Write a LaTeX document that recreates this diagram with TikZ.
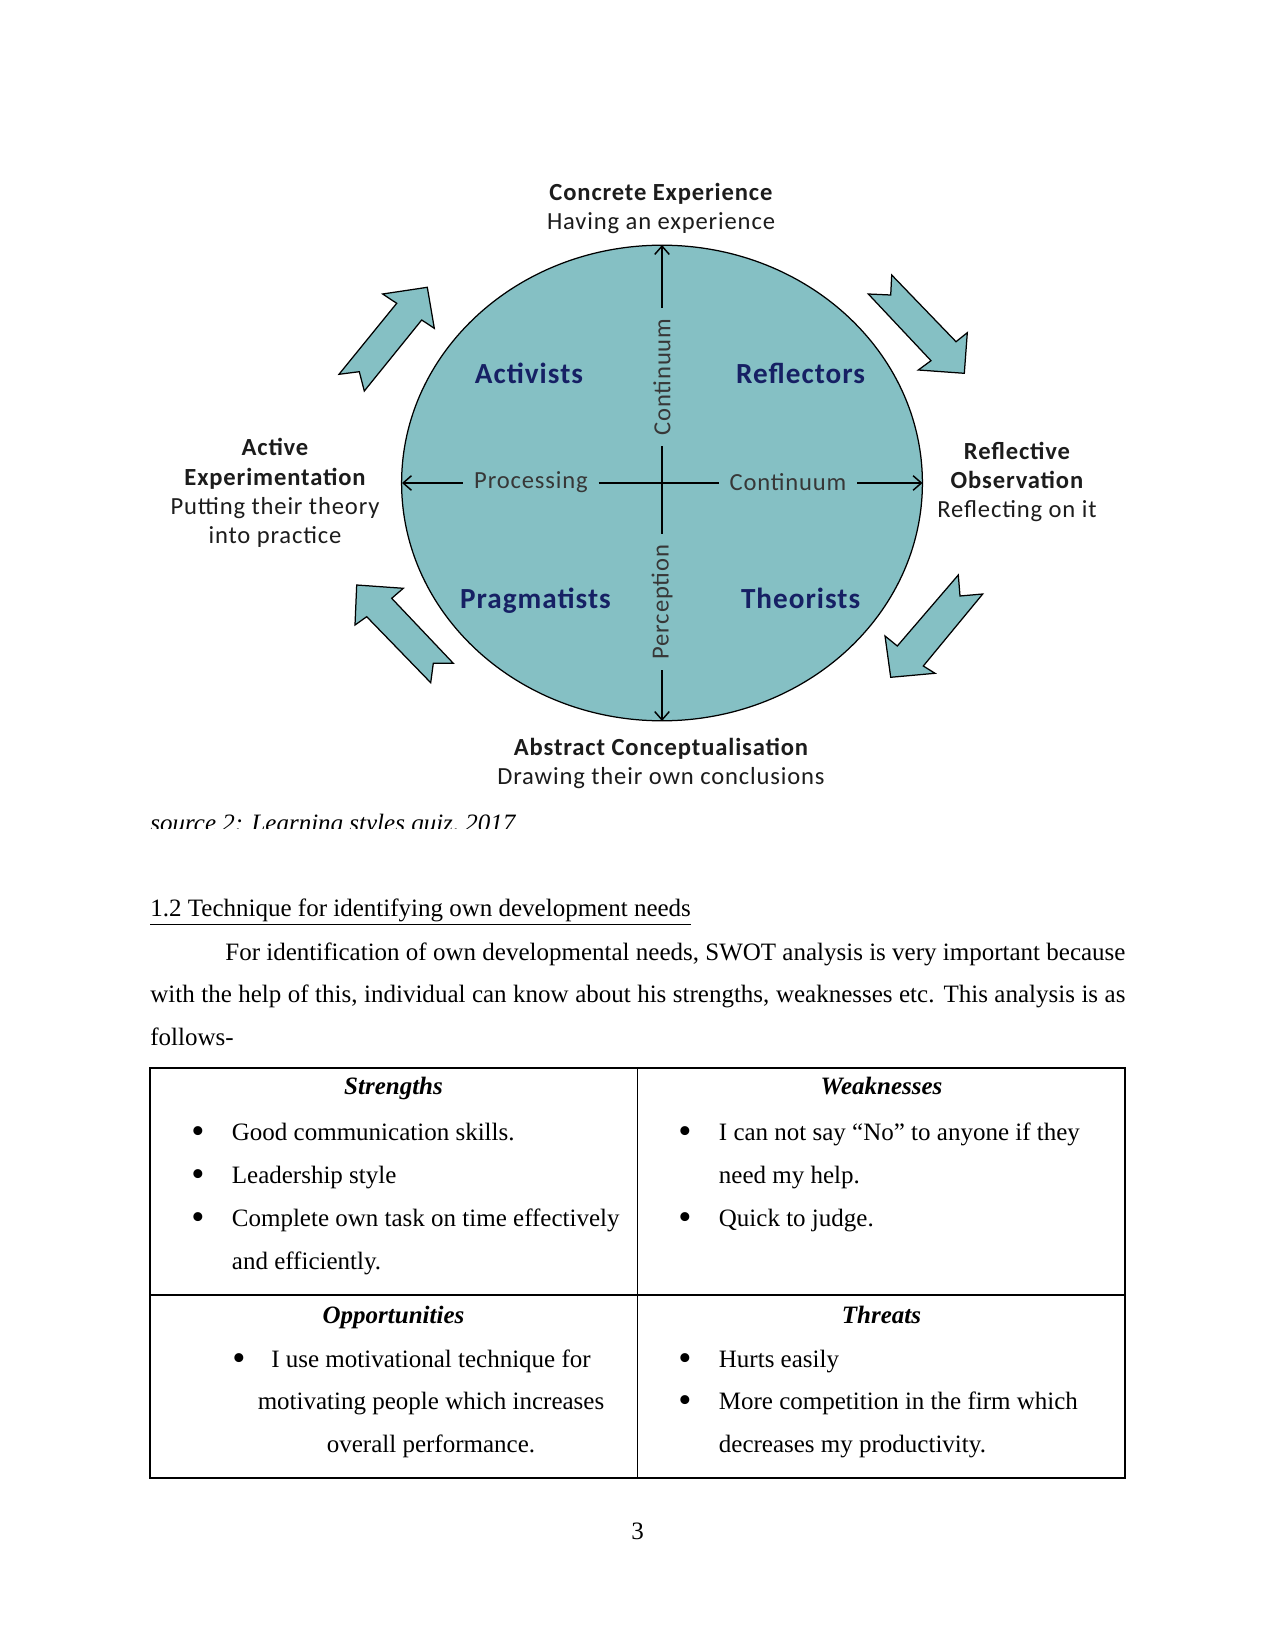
\documentclass[tikz,border=0pt]{standalone}
\usepackage{fontspec}
\setmainfont{Liberation Serif}
\newfontfamily\calfont[LetterSpace=3.5]{Carlito}
\usetikzlibrary{arrows.meta}
\definecolor{tealfill}{RGB}{133,192,196}
\definecolor{navyink}{RGB}{22,32,100}
\definecolor{ink}{RGB}{28,28,28}
\definecolor{axink}{RGB}{55,55,55}
\begin{document}
\begin{tikzpicture}[x=0.48pt,y=-0.48pt,
  lbl/.style={font=\calfont\fontsize{11.8}{14}\selectfont, text=ink, inner sep=0pt, anchor=base},
  lblb/.style={font=\calfont\bfseries\fontsize{11.8}{14}\selectfont, text=ink, inner sep=0pt, anchor=base},
  quad/.style={font=\calfont\bfseries\fontsize{14}{17}\selectfont, text=navyink, inner sep=0pt, anchor=base},
  axlbl/.style={font=\calfont\fontsize{11.8}{14}\selectfont, text=axink, inner xsep=5pt, inner ysep=0pt},
  blockarrow/.style={fill=tealfill, draw=black, line width=0.6pt, line join=miter},
  body/.style={font=\fontsize{12}{14}\selectfont, inner sep=0pt, anchor=base west},
  bodyc/.style={font=\fontsize{12}{14}\selectfont, inner sep=0pt, anchor=base},
  bul/.style={font=\fontsize{18}{18}\selectfont, inner sep=0pt, anchor=base},
  axis/.style={line width=0.7pt, draw=black},
  tipend/.style={-{Straight Barb[length=4pt,width=7pt]}},
  tipstart/.style={{Straight Barb[length=4pt,width=7pt]}-},
  grid/.style={line width=0.6pt, draw=black}
]
\fill[white] (0,0) rectangle (1275,1650);
\useasboundingbox (0,0) rectangle (1275,1650);

% ---------- cycle diagram ----------
\fill[tealfill, draw=black, line width=0.6pt] (662,483) ellipse [x radius=260.4, y radius=237.8];
\coordinate (ctop) at (662,245);
\coordinate (cbot) at (662,721);
\coordinate (cleft) at (402,483);
\coordinate (cright) at (922.5,483);

\node[axlbl, rotate=90] (contv) at (662,377) {Continuum};
\node[axlbl, rotate=90] (percv) at (662,602) {Perception};
\node[axlbl, anchor=base] (proc) at (531,488) {Processing};
\node[axlbl, anchor=base] (conth) at (788,490) {Continuum};

\draw[axis, tipstart] (ctop) -- (contv.east);
\draw[axis] (contv.west) -- (percv.east);
\draw[axis, tipend] (percv.west) -- (cbot);
\draw[axis, tipstart] (cleft) -- (proc.west |- cleft);
\draw[axis] (proc.east |- cleft) -- (conth.west |- cleft);
\draw[axis, tipend] (conth.east |- cleft) -- (cright);

\node[quad] (act) at (529,384) {Activists};
\node[quad] (refl) at (800.6,384) {Reflectors};
\node[quad] (prag) at (535.5,608) {Pragmatists};
\node[quad] (theo) at (800.6,608) {Theorists};

\node[lblb] (ce1) at (661,200.5) {Concrete Experience};
\node[lbl] (ce2) at (661,229.5) {Having an experience};
\node[lblb] (ae1) at (275,456) {Active};
\node[lblb] (ae2) at (275,485) {Experimentation};
\node[lbl] (ae3) at (275,514) {Putting their theory};
\node[lbl] (ae4) at (275,543) {into practice};
\node[lblb] (ro1) at (1017,459) {Reflective};
\node[lblb] (ro2) at (1017,488) {Observation};
\node[lbl] (ro3) at (1017,517) {Reflecting on it};
\node[lblb] (ac1) at (661,755) {Abstract Conceptualisation};
\node[lbl] (ac2) at (661,784) {Drawing their own conclusions};

% block arrows
\draw[blockarrow] (427.3,287.3) -- (434.3,328.3) -- (421.7,320) -- (364.3,391) -- (359.3,371.7) -- (339,374.3) -- (396.7,303.3) -- (382.7,294) -- cycle;
\draw[blockarrow] (891.7,275) -- (956,341.7) -- (967.3,332.7) -- (964.3,373.3) -- (918.3,370) -- (931,360.7) -- (868.3,294) -- (890.7,295) -- cycle;
\draw[blockarrow] (356.7,585) -- (403.3,588.3) -- (391.7,598.3) -- (453.3,663.3) -- (433.3,663.3) -- (430.7,682.7) -- (366.7,616.7) -- (355,625) -- cycle;
\draw[blockarrow] (958.3,575) -- (960,596) -- (982.7,594) -- (923.3,666) -- (935,673.3) -- (890.7,677.3) -- (885,636) -- (897.3,646) -- cycle;

% ---------- caption (cut off) ----------
\begin{scope}
\clip (0,0) rectangle (1275,828);
\node[body] (cap) at (150,831) {\itshape source 2: Learning styles quiz, 2017};
\end{scope}

% ---------- text ----------
\node[body] (head) at (150,916) {\underline{1.2 Technique for identifying own development needs}};
\node[body] (p1) at (225,960) {\makebox[432pt][s]{For identification of own developmental needs, SWOT analysis is very important because}};
\node[body] (p2) at (150,1002) {\makebox[468pt][s]{with the help of this, individual can know about his strengths, weaknesses etc. This analysis is as}};
\node[body] (p3) at (150,1045) {follows-};

% ---------- SWOT table ----------
\draw[grid] (150,1068) rectangle (1125,1478);
\draw[grid] (637.5,1068) -- (637.5,1478);
\draw[grid] (150,1295) -- (1125,1295);

\node[bodyc] (sh) at (393.5,1094) {\textbf{\textit{Strengths}}};
\node[bul] (sb1) at (198,1143) {\textbullet};
\node[bul] (sb2) at (198,1186) {\textbullet};
\node[bul] (sb3) at (198,1229) {\textbullet};
\node[body] (st1) at (231.5,1140) {Good communication skills.};
\node[body] (st2) at (231.5,1183) {Leadership style};
\node[body] (st3) at (231.5,1226) {Complete own task on time effectively};
\node[body] (st4) at (231.5,1269) {and efficiently.};

\node[bodyc] (wh) at (881.5,1094) {\textbf{\textit{Weaknesses}}};
\node[bul] (wb1) at (685,1143) {\textbullet};
\node[bul] (wb2) at (685,1229) {\textbullet};
\node[body] (wt1) at (718.5,1140) {I can not say “No” to anyone if they};
\node[body] (wt2) at (718.5,1183) {need my help.};
\node[body] (wt3) at (718.5,1226) {Quick to judge.};

\node[bodyc] (oh) at (393.5,1323) {\textbf{\textit{Opportunities}}};
\node[bul] (ob1) at (239,1370) {\textbullet};
\node[bodyc] (ot1) at (431,1367) {I use motivational technique for};
\node[bodyc] (ot2) at (431,1409) {motivating people which increases};
\node[bodyc] (ot3) at (431,1452) {overall performance.};

\node[bodyc] (th) at (881.5,1323) {\textbf{\textit{Threats}}};
\node[bul] (tb1) at (685,1370) {\textbullet};
\node[bul] (tb2) at (685,1412) {\textbullet};
\node[body] (tt1) at (718.5,1367) {Hurts easily};
\node[body] (tt2) at (718.5,1409) {More competition in the firm which};
\node[body] (tt3) at (718.5,1452) {decreases my productivity.};

\node[bodyc] (pg) at (637.5,1539) {3};
\end{tikzpicture}
\end{document}
